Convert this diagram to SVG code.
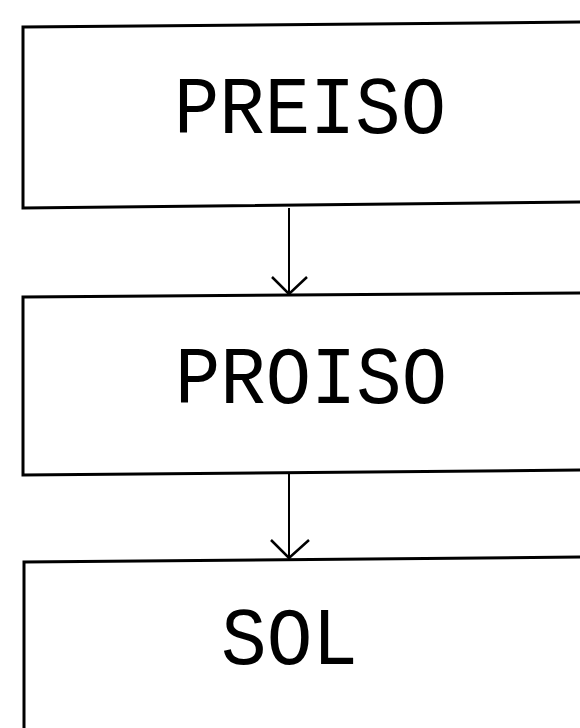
<svg xmlns="http://www.w3.org/2000/svg" width="580" height="728" viewBox="0 0 580 728">
<style>
.box{fill:none;stroke:#000;stroke-width:3;stroke-linejoin:miter}
.lbl{font-family:"Liberation Mono","Courier New",monospace;font-size:82px;fill:#000}
.con{fill:none;stroke:#000;stroke-width:2}
.head{fill:none;stroke:#000;stroke-width:2.5}
</style>
<rect width="580" height="728" fill="#fff"/>
<g id="node-preiso">
<path class="box" d="M582,22 L23,27 L23,208 L582,202"/>
<text class="lbl" x="174" y="133" textLength="272" lengthAdjust="spacingAndGlyphs">PREISO</text>
</g>
<g id="node-proiso">
<path class="box" d="M582,293 L23,297 L23,475 L582,470"/>
<text class="lbl" x="175" y="403" textLength="272" lengthAdjust="spacingAndGlyphs">PROISO</text>
</g>
<g id="node-sol">
<path class="box" d="M582,557 L24,562 L24,730"/>
<text class="lbl" x="221" y="664" textLength="137" lengthAdjust="spacingAndGlyphs">SOL</text>
</g>
<g id="connectors">
<line class="con" x1="289" y1="208" x2="289" y2="294"/>
<polyline class="head" points="272,277 289,294 307,277"/>
<line class="con" x1="289" y1="474" x2="289" y2="558"/>
<polyline class="head" points="271,540 289,558 309,540"/>
</g>
</svg>
